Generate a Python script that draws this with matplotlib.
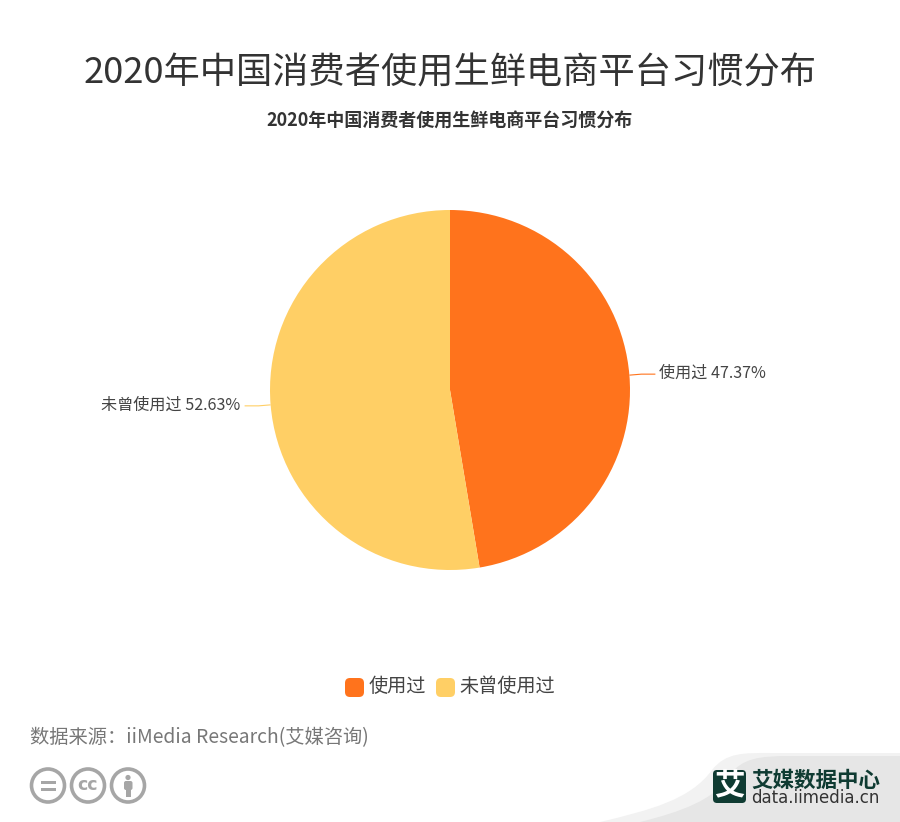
import numpy as np
import matplotlib

matplotlib.use("Agg")

import matplotlib.pyplot as plt
from matplotlib.patches import Circle, FancyBboxPatch, PathPatch, Rectangle
from matplotlib.path import Path

plt.rcParams['font.family'] = ['Noto Sans CJK SC', 'DejaVu Sans']

# Chart data
categories = ["使用过", "未曾使用过"]
values = [47.37, 52.63]
colors = ["#FF731C", "#FFCF65"]
title = "2020年中国消费者使用生鲜电商平台习惯分布"
source = "数据来源：iiMedia Research(艾媒咨询)"

W, H = 900, 822
fig = plt.figure(figsize=(W / 100, H / 100), dpi=100, facecolor="white")

# Overlay in pixel coordinates for everything around the pie
bg = fig.add_axes([0, 0, 1, 1])
bg.set_xlim(0, W)
bg.set_ylim(H, 0)
bg.axis("off")

# Pie
cx, cy, r = 450, 390, 180
ax = fig.add_axes([(cx - r) / W, 1 - (cy + r) / H, 2 * r / W, 2 * r / H])
wedges, _ = ax.pie(values, colors=colors, startangle=90, counterclock=False, radius=1)
ax.set_xlim(-1, 1)
ax.set_ylim(-1, 1)

bg.text(450, 73.5, title, ha="center", va="center", fontsize=26.1, color="#333333", weight="light")
bg.text(450, 120.5, title, ha="center", va="center", fontsize=13, color="#333333", weight="bold")

# Slice labels with leader lines
for w, cat, val, col in zip(wedges, categories, values, colors):
    a = np.deg2rad((w.theta1 + w.theta2) / 2)
    x0, y0 = cx + r * np.cos(a), cy - r * np.sin(a)
    side = 1 if np.cos(a) > 0 else -1
    x1 = x0 + side * 12
    y1 = cy - (r + 6) * np.sin(a) + (0.5 if side < 0 else -0.5)
    x2 = x1 + side * 14
    bg.plot([x0, x1, x2], [y0, y1, y1], color=col, lw=0.8, solid_capstyle="butt")
    bg.text(x2 + side * 4, y1 - 1, f"{cat} {val:.2f}%", ha="left" if side > 0 else "right",
            va="center", fontsize=11.6, color="#444444", weight="light")

# Legend
for x, tx, cat, col in zip([345, 436], [369, 459], categories, colors):
    bg.add_patch(FancyBboxPatch((x, 678), 19, 19, boxstyle="round,pad=0,rounding_size=5",
                                fc=col, ec="none"))
    bg.text(tx, 686, cat, ha="left", va="center", fontsize=13.8, color="#444444", weight="light")

bg.text(30, 738, source, ha="left", va="center", fontsize=13.9, color="#777777", weight="light")

# Licence icons
grey = "#A6A6A6"
for x in [48, 88, 128]:
    bg.add_patch(Circle((x, 785.5), 16.5, fc="white", ec=grey, lw=2.6))
bg.add_patch(Rectangle((40.5, 781), 15, 2.5, fc=grey, ec="none"))
bg.add_patch(Rectangle((40.5, 788), 15, 2.5, fc=grey, ec="none"))
bg.text(88, 784.5, "cc", ha="center", va="center", fontsize=12.5, color=grey, weight="bold",
        family="DejaVu Sans")
bg.add_patch(Circle((128, 777.5), 2.6, fc=grey, ec="none"))
bg.add_patch(FancyBboxPatch((124, 781), 8.5, 9, boxstyle="round,pad=0,rounding_size=2", fc=grey, ec="none"))
bg.add_patch(Rectangle((125.5, 788), 5.5, 9, fc=grey, ec="none"))

# Grey corner shape behind the logo
band = Path(
    [(900, 822), (600, 822), (650, 810), (690, 800), (712, 770), (726, 752), (745, 753), (770, 753),
     (900, 753), (900, 822), (900, 822)],
    [Path.MOVETO, Path.LINETO, Path.CURVE4, Path.CURVE4, Path.CURVE4, Path.CURVE4, Path.CURVE4, Path.CURVE4,
     Path.LINETO, Path.LINETO, Path.CLOSEPOLY],
)
bg.add_patch(PathPatch(band, fc="#F2F2F2", ec="none"))
band2 = Path(
    [(900, 822), (640, 822), (680, 812), (715, 800), (730, 775), (742, 758), (760, 756), (790, 756),
     (900, 756), (900, 822), (900, 822)],
    [Path.MOVETO, Path.LINETO, Path.CURVE4, Path.CURVE4, Path.CURVE4, Path.CURVE4, Path.CURVE4, Path.CURVE4,
     Path.LINETO, Path.LINETO, Path.CLOSEPOLY],
)
bg.add_patch(PathPatch(band2, fc="#E6E6E6", ec="none"))

# Logo
dark = "#0F3B32"
bg.add_patch(FancyBboxPatch((713, 770), 33, 33, boxstyle="round,pad=0,rounding_size=4", fc=dark, ec="none"))
bg.text(729.5, 785.5, "艾", ha="center", va="center", fontsize=22, color="white", weight="bold")
bg.text(751, 780, "艾媒数据中心", ha="left", va="center", fontsize=15.5, color=dark, weight="bold")
bg.text(751, 798, "data.iimedia.cn", ha="left", va="center", fontsize=12, color="#333333",
        family="DejaVu Sans")

fig.savefig("out.png", dpi=100)
